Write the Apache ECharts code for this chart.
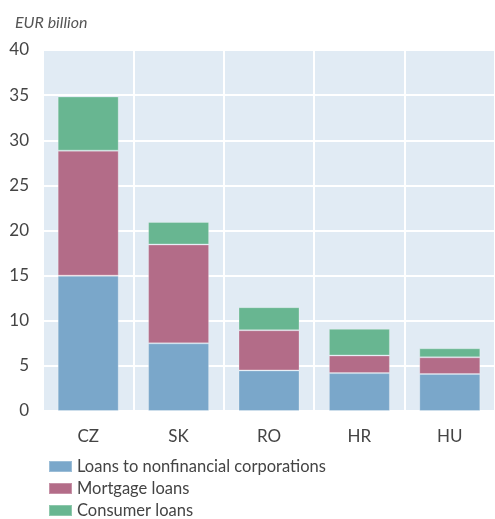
<!DOCTYPE html>
<html>
<head>
<meta charset="utf-8">
<script src="https://cdn.jsdelivr.net/npm/echarts@6/dist/echarts.min.js"></script>
<style>
  html, body { margin: 0; padding: 0; background: #fff; }
  #main { width: 495px; height: 519px; }
</style>
</head>
<body>
<div id="main"></div>
<script>
// countries
var countries = ['CZ', 'SK', 'RO', 'HR', 'HU'];
// EUR billion
var corporate = [15.0, 7.5, 4.5, 4.2, 4.1];
var mortgage = [13.85, 10.95, 4.45, 1.95, 1.85];
var consumer = [6.0, 2.5, 2.55, 2.95, 1.0];
var seriesNames = ['Loans to nonfinancial corporations', 'Mortgage loans', 'Consumer loans'];
var colors = ['#7AA7CA', '#B36C88', '#68B691'];

var myChart = echarts.init(document.getElementById('main'));
var font = 'Lato, "Open Sans", sans-serif';

function bar(name, data) {
  return {
    name: name,
    type: 'bar',
    stack: 'total',
    barWidth: 61,
    data: data,
    itemStyle: { borderColor: 'rgba(255,255,255,0.25)', borderWidth: 1 }
  };
}

// one legend per row so they stack like the original
function legendRow(name, top) {
  return {
    left: 43,
    top: top,
    itemWidth: 23,
    itemHeight: 11,
    icon: 'rect',
    data: [name],
    textStyle: { fontSize: 16.5, color: '#444', fontFamily: font }
  };
}

myChart.setOption({
  animation: false,
  color: colors,
  textStyle: { fontFamily: font, color: '#444' },
  title: {
    text: 'EUR billion',
    left: 10,
    top: 10,
    textStyle: { fontSize: 16, fontStyle: 'italic', fontWeight: 'normal', color: '#555', fontFamily: font }
  },
  grid: {
    left: 43,
    top: 50,
    width: 456,
    height: 361,
    show: true,
    backgroundColor: '#E1EBF4',
    borderWidth: 0
  },
  legend: [
    legendRow(seriesNames[0], 453),
    legendRow(seriesNames[1], 475),
    legendRow(seriesNames[2], 497)
  ],
  xAxis: {
    type: 'category',
    data: countries,
    axisLine: { show: false },
    axisTick: { show: false },
    axisLabel: { fontSize: 17, color: '#444', margin: 17 },
    splitLine: { show: true, lineStyle: { color: '#fff', width: 2 } }
  },
  yAxis: {
    type: 'value',
    min: 0,
    max: 40,
    interval: 5,
    axisLine: { show: false },
    axisTick: { show: false },
    axisLabel: { fontSize: 17, color: '#444', margin: 14 },
    splitLine: { show: true, lineStyle: { color: '#fff', width: 2 } }
  },
  series: [
    bar(seriesNames[0], corporate),
    bar(seriesNames[1], mortgage),
    bar(seriesNames[2], consumer)
  ]
});
</script>
</body>
</html>
